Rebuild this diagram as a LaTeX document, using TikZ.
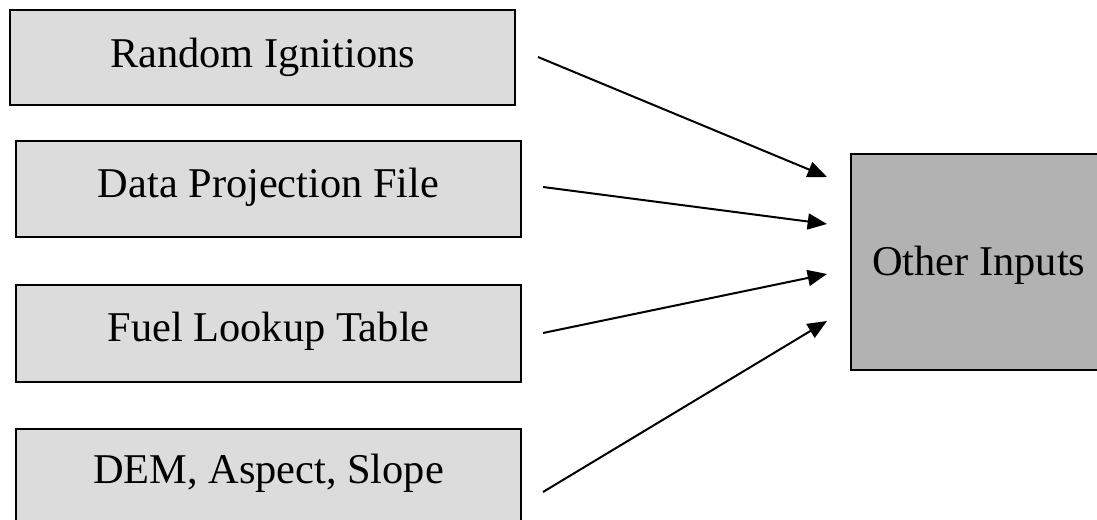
\documentclass[tikz,border=0pt]{standalone}
\usepackage{fontspec}
\setmainfont{Liberation Serif}
\usetikzlibrary{arrows.meta}
\definecolor{boxgray}{HTML}{DCDCDC}
\definecolor{sinkgray}{HTML}{B2B2B2}
\tikzset{
  inbox/.style={draw=black, line width=1.8pt, fill=boxgray, inner sep=0pt,
    anchor=north west, align=center, minimum width=378.5pt,
    font=\fontsize{31.8}{38}\selectfont},
  sinkbox/.style={draw=black, line width=1.8pt, fill=sinkgray, inner sep=0pt,
    anchor=north west, align=center, minimum width=191.25pt,
    text height=91pt, text depth=71pt,
    font=\fontsize{31.8}{38}\selectfont},
  feed/.style={line width=1.5pt, -{Triangle[length=14.5pt, width=12pt]}}
}
\begin{document}
\begin{tikzpicture}[x=0.75pt, y=-0.75pt]
  \useasboundingbox (0,0) rectangle (1097,520);
  \clip (0,0) rectangle (1097,520);

  % input data boxes
  \node[inbox, minimum width=378.75pt, text height=42.75pt, text depth=28.5pt] (ri) at (9,9) {Random Ignitions};
  \node[inbox, text height=42.5pt, text depth=29.5pt] (dp) at (15,140) {Data Projection File};
  \node[inbox, text height=42pt, text depth=30.75pt] (fl) at (15,284) {Fuel Lookup Table};
  \node[inbox, text height=41pt, text depth=38pt] (dem) at (15,428) {DEM, Aspect, Slope};

  % collecting box
  \node[sinkbox] (oi) at (850,153) {Other Inputs};

  % arrow end points
  \coordinate (s1) at (538,57);
  \coordinate (s2) at (543,187);
  \coordinate (s3) at (543,333);
  \coordinate (s4) at (543,492);
  \coordinate (t1) at (827,177);
  \coordinate (t2) at (827,224);
  \coordinate (t3) at (827,274);
  \coordinate (t4) at (827,321);

  \draw[feed] (s1) -- (t1);
  \draw[feed] (s2) -- (t2);
  \draw[feed] (s3) -- (t3);
  \draw[feed] (s4) -- (t4);
\end{tikzpicture}
\end{document}
